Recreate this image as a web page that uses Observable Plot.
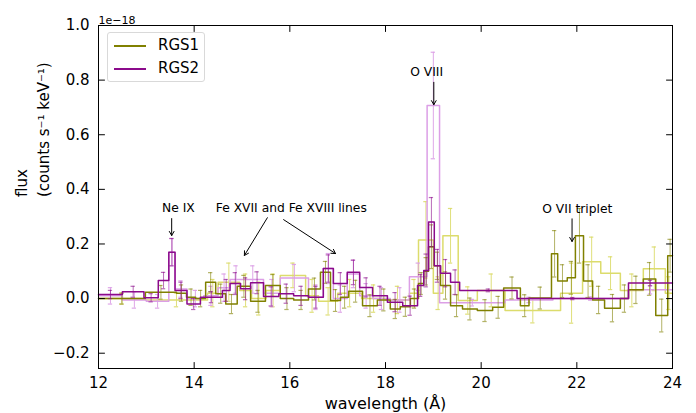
<!DOCTYPE html>
<html><head><meta charset="utf-8">
<script src="https://cdn.jsdelivr.net/npm/d3@7"></script>
<script src="https://cdn.jsdelivr.net/npm/@observablehq/plot@0.6"></script>
<style>
body{margin:0;background:#fff;font-family:"DejaVu Sans",sans-serif}
#wrap{position:relative;width:696px;height:413px}
#legend{position:absolute;left:107px;top:32px;width:98px;height:50px;border:1px solid #d9d9d9;border-radius:3px;background:rgba(255,255,255,0.85);box-sizing:border-box;font-size:15px;color:#000}
.it{position:absolute;left:50px;line-height:15px}
.ln{position:absolute;left:6px;width:32px;height:0;border-top:2px solid}
</style></head>
<body><div id="wrap"><div id="chart"></div>
<div id="legend"></div></div>
<script>
// ---- data (flux in units of 1e-18) ----
const rgs1Edges = [12.0,12.98,13.63,13.84,14.03,14.24,14.45,14.66,14.9,15.18,15.49,15.8,16.08,16.39,16.64,16.85,17.06,17.23,17.52,17.83,18.1,18.31,18.52,18.69,18.8,18.9,19.02,19.15,19.36,19.61,19.92,20.24,20.47,20.82,21.0,21.47,21.6,21.8,21.97,22.14,22.33,22.58,22.91,23.08,23.39,23.65,23.9,24.0];
const rgs1Vals = [0.0,0.023,0.02,0.005,0.0,0.06,0.018,-0.02,0.045,-0.01,0.048,0.0,-0.005,0.035,0.096,-0.007,0.005,0.027,-0.026,-0.005,-0.038,-0.03,0.0,0.055,0.1,0.19,0.12,0.048,-0.026,-0.038,-0.044,-0.032,0.039,-0.026,0.002,0.164,0.064,0.076,0.23,0.064,-0.005,-0.035,0.0,0.032,0.072,-0.062,0.157];
const rgs1Errs = [0.02,0.025,0.03,0.03,0.03,0.035,0.035,0.035,0.04,0.04,0.04,0.04,0.035,0.04,0.04,0.04,0.04,0.04,0.04,0.04,0.035,0.035,0.035,0.04,0.05,0.08,0.05,0.05,0.04,0.04,0.04,0.04,0.04,0.04,0.04,0.085,0.06,0.06,0.1,0.06,0.05,0.05,0.05,0.05,0.06,0.06,0.06];

const rgs1bEdges = [12.0,12.98,14.28,14.5,14.95,15.2,15.5,15.8,16.33,16.6,17.0,17.5,18.0,18.5,18.69,19.0,19.2,19.52,19.92,20.5,21.66,22.12,22.5,22.91,23.39,23.85,24.0];
const rgs1bVals = [0.0,-0.005,0.02,0.06,0.03,0.0,0.03,0.085,0.01,-0.01,0.02,0.0,-0.005,0.02,0.215,0.02,0.23,-0.007,0.03,-0.044,0.02,0.135,0.093,0.03,0.109,0.02];
const rgs1bErrs = [0.02,0.025,0.05,0.07,0.06,0.06,0.06,0.045,0.06,0.05,0.05,0.05,0.05,0.05,0.14,0.06,0.1,0.05,0.06,0.045,0.11,0.09,0.06,0.06,0.08,0.06];

const rgs2Edges = [12.0,12.5,12.95,13.25,13.47,13.6,13.85,14.13,14.59,14.75,14.97,15.18,15.45,15.77,16.08,16.39,16.7,16.91,17.2,17.46,17.73,18.04,18.36,18.67,18.8,18.9,19.02,19.15,19.36,19.55,20.75,23.08,24.0];
const rgs2Vals = [0.015,0.025,0.003,0.066,0.17,0.03,-0.02,0.005,0.03,0.055,0.036,0.058,0.008,0.018,0.01,0.005,0.11,0.055,0.096,0.041,0.01,-0.013,-0.026,0.048,0.103,0.28,0.12,0.093,0.06,0.03,0.0,0.057];
const rgs2Errs = [0.015,0.02,0.015,0.03,0.05,0.03,0.02,0.02,0.04,0.04,0.04,0.04,0.035,0.035,0.035,0.04,0.05,0.04,0.045,0.035,0.035,0.035,0.035,0.04,0.06,0.09,0.06,0.05,0.045,0.005,0.004,0.01];

const rgs2bEdges = [12.0,12.5,13.0,13.47,13.6,13.85,14.2,14.5,14.75,15.0,15.45,15.8,16.39,16.7,16.91,17.2,17.46,17.73,18.1,18.5,18.87,19.13,20.5,21.5,23.08,24.0];
const rgs2bVals = [0.01,-0.005,-0.01,0.17,0.035,0.0,0.01,0.04,0.07,0.07,0.02,0.075,0.005,0.11,0.0,0.09,0.01,0.0,-0.005,0.08,0.707,-0.015,-0.005,0.0,0.032];
const rgs2bErrs = [0.03,0.03,0.025,0.05,0.03,0.03,0.035,0.05,0.05,0.05,0.05,0.05,0.045,0.055,0.05,0.05,0.045,0.04,0.045,0.05,0.195,0.012,0.01,0.006,0.015];

const xTicks = [12,14,16,18,20,22,24];
const yTicks = [-0.2,0.0,0.2,0.4,0.6,0.8,1.0];
const seriesNames = ["RGS1","RGS2"];

const annoLabels = ["Ne IX","Fe XVII and Fe XVIII lines","O VIII","O VII triplet"];
const annoX = [13.67,16.03,18.86,22.01];
const annoY = [0.333,0.333,0.829,0.329];
const arrowX1 = [13.53,15.53,15.87,19.01,21.9];
const arrowY1 = [0.293,0.296,0.289,0.792,0.292];
const arrowX2 = [13.53,15.05,16.955,19.01,21.9];
const arrowY2 = [0.231,0.158,0.165,0.71,0.209];

// ---- styles ----
const C = {rgs1:"#808000", rgs1b:"#dcdc6c", rgs2:"#8b0a8b", rgs2b:"#dc9fe6"};
const tickShape = {draw(ctx, l){ ctx.moveTo(0,0); ctx.lineTo(0,-l); }};

function steps(edges, vals){ return edges.map((e,i)=>({x:e, y: vals[Math.min(i, vals.length-1)]})); }
function bars(edges, vals, errs){ return vals.map((v,i)=>({x:(edges[i]+edges[i+1])/2, y:v, e:errs[i]})); }
function seriesMarks(edges, vals, errs, color, eOpacity){
  const b = bars(edges, vals, errs);
  return [
    Plot.ruleX(b, {x:"x", y1:d=>d.y-d.e, y2:d=>d.y+d.e, stroke:color, strokeOpacity:eOpacity, strokeWidth:1}),
    Plot.ruleY(b, {y:d=>d.y-d.e, x1:d=>d.x-0.045, x2:d=>d.x+0.045, stroke:color, strokeOpacity:eOpacity, strokeWidth:1.2}),
    Plot.ruleY(b, {y:d=>d.y+d.e, x1:d=>d.x-0.045, x2:d=>d.x+0.045, stroke:color, strokeOpacity:eOpacity, strokeWidth:1.2}),
    Plot.line(steps(edges, vals), {x:"x", y:"y", curve:"step-after", stroke:color, strokeWidth:1.5})
  ];
}

const anno = annoLabels.map((t,i)=>({t, x:annoX[i], y:annoY[i]}));
const arrows = arrowX1.map((x,i)=>({x1:x, y1:arrowY1[i], x2:arrowX2[i], y2:arrowY2[i]}));

const chart = Plot.plot({
  width:696, height:413,
  marginLeft:98, marginRight:24, marginTop:25, marginBottom:45,
  style:{fontFamily:"DejaVu Sans, sans-serif", fontSize:"15px", color:"#000", background:"#fff"},
  x:{domain:[12,24]},
  y:{domain:[-0.256,1.0]},
  marks:[
    ...seriesMarks(rgs1bEdges, rgs1bVals, rgs1bErrs, C.rgs1b, 0.9),
    ...seriesMarks(rgs2bEdges, rgs2bVals, rgs2bErrs, C.rgs2b, 0.9),
    ...seriesMarks(rgs1Edges, rgs1Vals, rgs1Errs, C.rgs1, 0.6),
    ...seriesMarks(rgs2Edges, rgs2Vals, rgs2Errs, C.rgs2, 0.6),
    Plot.arrow(arrows, {x1:"x1", y1:"y1", x2:"x2", y2:"y2", stroke:"#000", strokeWidth:1, headLength:7, bend:0}),
    Plot.text(anno, {x:"x", y:"y", text:"t", fontSize:12.3, fill:"#000"}),
    Plot.axisX({anchor:"bottom", ticks:xTicks, tickSize:0, tickPadding:9, label:null}),
    Plot.axisY({anchor:"left", ticks:yTicks, tickSize:0, tickPadding:9, tickFormat:d3.format(".1f"), label:null}),
    // inward ticks on all four sides
    Plot.vector(xTicks, {x:d=>d, frameAnchor:"bottom", length:6, rotate:0, anchor:"start", shape:tickShape, stroke:"#000", strokeWidth:1}),
    Plot.vector(xTicks, {x:d=>d, frameAnchor:"top", length:6, rotate:180, anchor:"start", shape:tickShape, stroke:"#000", strokeWidth:1}),
    Plot.vector(yTicks, {y:d=>d, frameAnchor:"left", length:6, rotate:90, anchor:"start", shape:tickShape, stroke:"#000", strokeWidth:1}),
    Plot.vector(yTicks, {y:d=>d, frameAnchor:"right", length:6, rotate:-90, anchor:"start", shape:tickShape, stroke:"#000", strokeWidth:1}),
    Plot.frame({stroke:"#000", strokeWidth:1}),
    Plot.text(["1e\u221218"], {frameAnchor:"top-left", dy:-9, textAnchor:"start", fontSize:11}),
    Plot.text(["wavelength (\u00c5)"], {frameAnchor:"bottom", dy:29, lineAnchor:"top", fontSize:16}),
    Plot.text(["flux"], {frameAnchor:"left", dx:-76, rotate:-90, fontSize:15}),
    Plot.text(["(counts s\u207b\u00b9 keV\u207b\u00b9)"], {frameAnchor:"left", dx:-54, rotate:-90, fontSize:15})
  ]
});
document.getElementById("chart").appendChild(chart);

const leg = document.getElementById("legend");
const legColors = [C.rgs1, C.rgs2];
seriesNames.forEach((n,i)=>{
  const ln = document.createElement("div"); ln.className="ln";
  ln.style.borderTopColor = legColors[i]; ln.style.top = (12 + i*23) + "px";
  const t = document.createElement("div"); t.className="it"; t.textContent = n;
  t.style.top = (5 + i*23) + "px";
  leg.appendChild(ln); leg.appendChild(t);
});
</script></body></html>
